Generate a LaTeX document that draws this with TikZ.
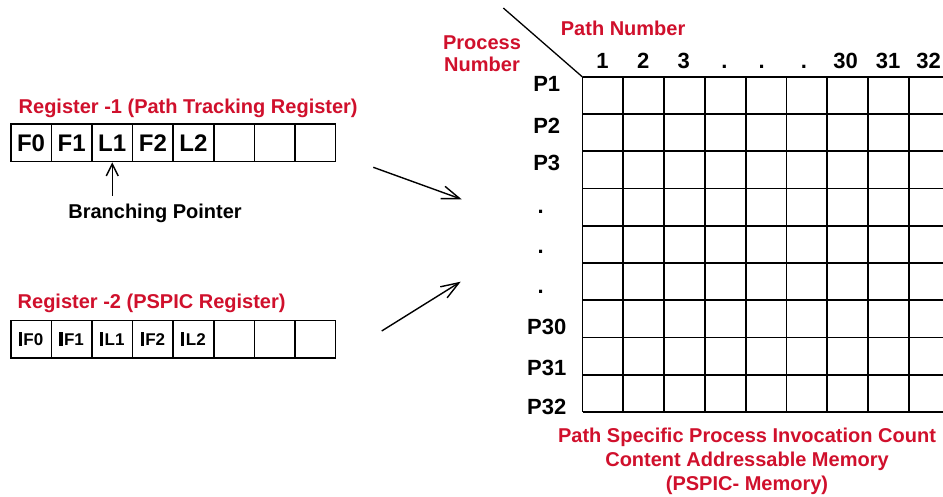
\documentclass[tikz,border=0pt]{standalone}
\usepackage{fontspec}
\setmainfont{Liberation Sans}
\usetikzlibrary{arrows.meta}
\definecolor{labelred}{RGB}{208,16,44}
\newcommand{\fsz}[1]{\fontsize{#1}{#1}\selectfont\bfseries}
\newcommand{\mk}{\rule[-1pt]{3.2pt}{14pt}\hspace{1.5pt}}
\begin{document}
\begin{tikzpicture}[x=1pt,y=-1pt,
  regcell/.style={draw,line width=1.5pt,minimum width=40.6pt,minimum height=37.5pt,
    inner sep=0pt,anchor=north west},
  bigtxt/.style={font=\fsz{24}},
  smalltxt/.style={font=\fsz{17}},
  redlabel/.style={text=labelred,font=\fsz{20},inner sep=0pt,anchor=base},
  blacklabel/.style={font=\fsz{22},inner sep=0pt,anchor=base},
  ptr/.style={-{Straight Barb[length=12pt,width=12pt]},line width=1.5pt},
  bigptr/.style={-{Straight Barb[length=18pt,width=13pt]},line width=1.4pt},
  gridline/.style={line width=1.8pt}
]
\useasboundingbox (0,0) rectangle (943,497);
\clip (0,0) rectangle (943,497);
\fill[white] (0,0) rectangle (943,497);

% ---- Register 1: path tracking register ----
\node[redlabel,anchor=base west] (reg1lbl) at (18.5,114) {Register -1 (Path Tracking Register)};
\foreach \i/\t in {1/F0,2/F1,3/L1,4/F2,5/L2,6/{},7/{},8/{}}
  \node[regcell,bigtxt] (ra\i) at ({10+40.6*(\i-1)},123.3) {\t};
\node[font=\fsz{20},inner sep=0pt,anchor=base] (bp) at (155,218.3) {Branching Pointer};
\coordinate (bpy) at (0,196);
\draw[ptr] (ra3.south |- bpy) -- (ra3.south);

% ---- Register 2: PSPIC register ----
\node[redlabel,anchor=base west] (reg2lbl) at (17.5,308.5) {Register -2 (PSPIC Register)};
\foreach \i/\t in {1/{\mk F0},2/{\mk F1},3/{\mk L1},4/{\mk F2},5/{\mk L2},6/{},7/{},8/{}}
  \node[regcell,smalltxt] (rb\i) at ({10+40.6*(\i-1)},319.5) {\t};

% ---- arrows towards the memory ----
\coordinate (a1s) at (373.3,167.3);
\coordinate (a1e) at (461.7,199.3);
\coordinate (a2s) at (381.7,331);
\coordinate (a2e) at (460.7,281.7);
\draw[bigptr] (a1s) -- (a1e);
\draw[bigptr] (a2s) -- (a2e);

% ---- PSPIC memory grid ----
\coordinate (gnw) at (582.5,77);
\coordinate (dtop) at (503.3,8);
\foreach \k in {0,...,9}{
  \draw[gridline] ({582.5+40.8*\k},77) -- ({582.5+40.8*\k},411.8);
  \draw[gridline] (582.5,{77+37.2*\k}) -- (950,{77+37.2*\k});
}
\draw[line width=1.3pt] (dtop) -- (gnw);

\node[redlabel,anchor=base west] (pathnum) at (560.7,36) {Path Number};
\node[redlabel] (proc1) at (482,50) {Process};
\node[redlabel] (proc2) at (482,71.7) {Number};

\foreach \x/\t in {602.5/1,643.3/2,683.8/3,845.5/30,888/31,928.5/32}
  \node[blacklabel] (c\t) at (\x,68.3) {\t};
\foreach \x [count=\j] in {724.3,761.7,804}
  \node[blacklabel] (cd\j) at (\x,68.3) {.};

\foreach \y/\t in {92/P1,133.3/P2,171/P3,334.3/P30,375/P31,414.3/P32}
  \node[blacklabel] (r\t) at (546.7,\y) {\t};
\foreach \y [count=\j] in {213.3,253.8,294}
  \node[blacklabel] (rd\j) at (540.7,\y) {.};

\node[redlabel] (mem1) at (747,442.7) {Path Specific Process Invocation Count};
\node[redlabel] (mem2) at (747,466.7) {Content Addressable Memory};
\node[redlabel] (mem3) at (747,490) {(PSPIC- Memory)};
\end{tikzpicture}
\end{document}
